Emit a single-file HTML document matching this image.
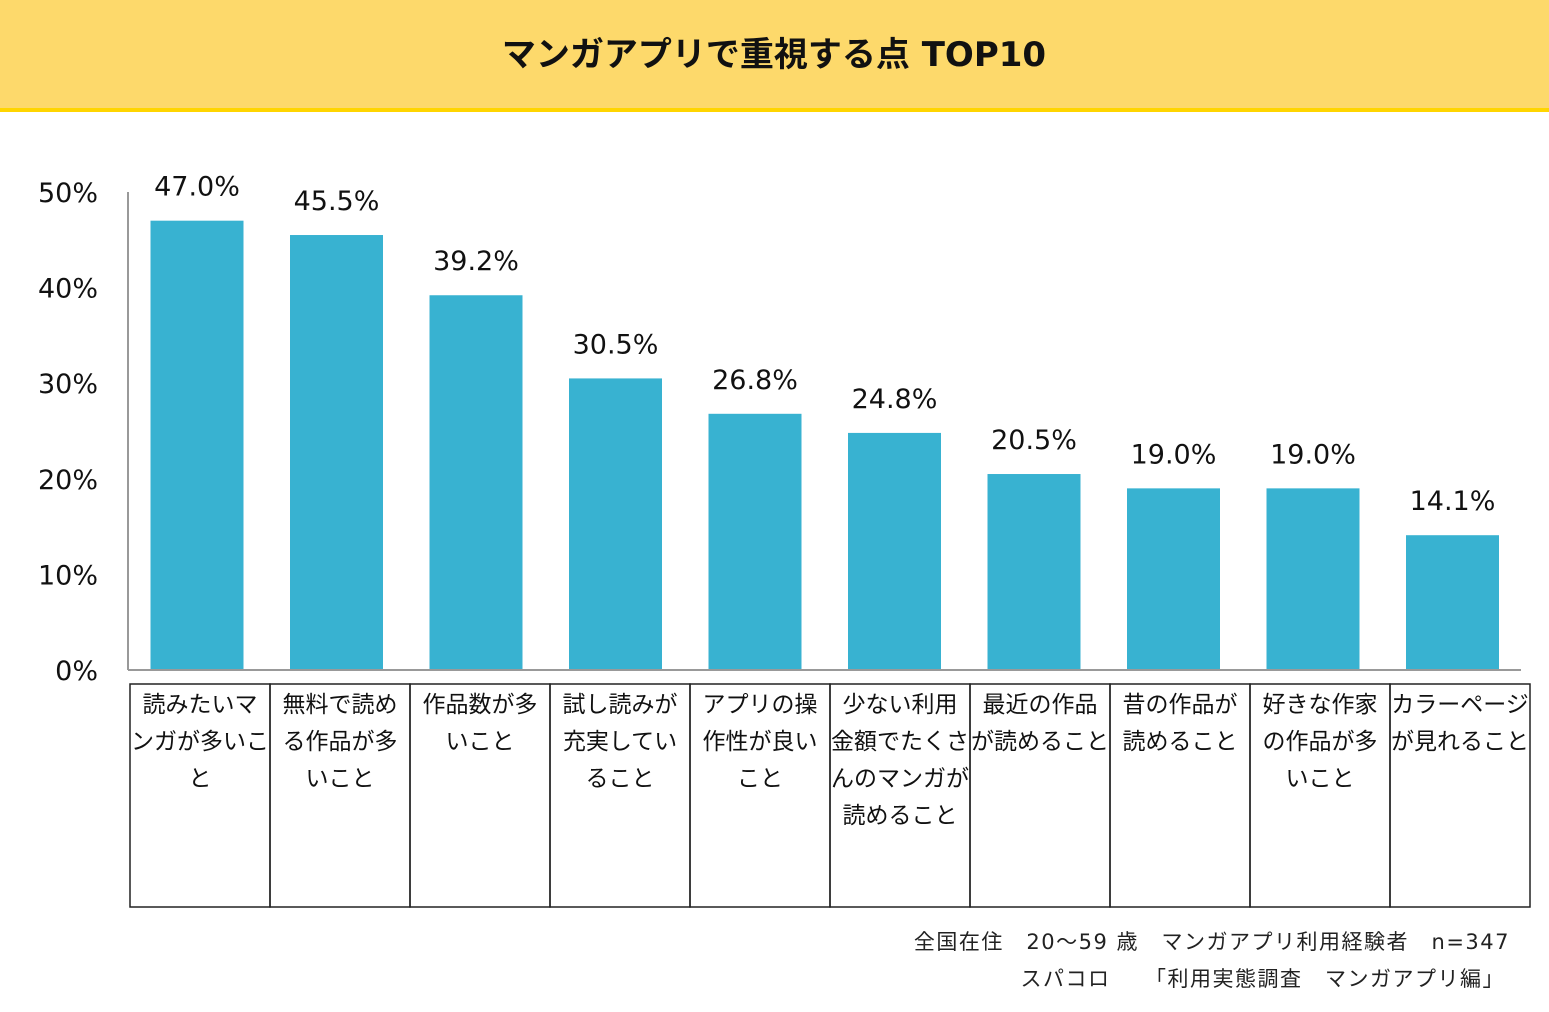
<!DOCTYPE html>
<html><head><meta charset="utf-8"><style>
body{margin:0;width:1549px;height:1008px;background:#fff;overflow:hidden;font-family:"DejaVu Sans","Noto Sans CJK JP",sans-serif}
</style></head><body>
<svg width="1549" height="1008" xmlns="http://www.w3.org/2000/svg" font-family="DejaVu Sans, Noto Sans CJK JP, sans-serif">
<rect x="0" y="0" width="1549" height="109" fill="#FDD96B"/>
<rect x="0" y="108" width="1549" height="4" fill="#FFD500"/>
<text x="774" y="66" text-anchor="middle" font-size="34" font-weight="bold" fill="#111">マンガアプリで重視する点 TOP10</text>
<g id="yticks"></g>
<line x1="128" y1="192" x2="128" y2="670" stroke="#999" stroke-width="2"/>
<g id="bars"></g>
<line x1="128" y1="670" x2="1521" y2="670" stroke="#999" stroke-width="2"/>
<g id="table"></g>
<text x="1510" y="949" text-anchor="end" font-size="21" letter-spacing="1.5" fill="#222" xml:space="preserve">全国在住　20～59 歳　マンガアプリ利用経験者　n=347</text>
<text x="1505" y="986" text-anchor="end" font-size="21" letter-spacing="1.5" fill="#222" xml:space="preserve">スパコロ　　「利用実態調査　マンガアプリ編」</text>
</svg>
<script>
const categories=[["読みたいマ","ンガが多いこ","と"],["無料で読め","る作品が多","いこと"],["作品数が多","いこと"],["試し読みが","充実してい","ること"],["アプリの操","作性が良い","こと"],["少ない利用","金額でたくさ","んのマンガが","読めること"],["最近の作品","が読めること"],["昔の作品が","読めること"],["好きな作家","の作品が多","いこと"],["カラーページ","が見れること"]];
const values=[47.0,45.5,39.2,30.5,26.8,24.8,20.5,19.0,19.0,14.1];
const tickValues=[0,10,20,30,40,50];
const NS="http://www.w3.org/2000/svg";
function y(v){return 670-v*9.56;}
function bx(i){return 197+i*139.5;}
function mk(t,a,p){const e=document.createElementNS(NS,t);for(const k in a)e.setAttribute(k,a[k]);p.appendChild(e);return e;}
const yt=document.getElementById('yticks');
tickValues.forEach(v=>{const t=mk('text',{x:98,y:y(v)+10,'text-anchor':'end','font-size':27,fill:'#111'},yt);t.textContent=v+'%';

});
const bg=document.getElementById('bars');
values.forEach((v,i)=>{const r=mk('rect',{x:bx(i)-46.5,y:y(v),width:93,height:670-y(v),fill:'#38B2D1'},bg);


const t=mk('text',{x:bx(i),y:y(v)-25,'text-anchor':'middle','font-size':27,fill:'#111'},bg);t.textContent=v.toFixed(1)+'%';

});
const tb=document.getElementById('table');
categories.forEach((lines,i)=>{const x0=130+i*140;
const c=mk('rect',{x:x0,y:684,width:140,height:223,fill:'none',stroke:'#222','stroke-width':1.5},tb);


lines.forEach((l,j)=>{const t=mk('text',{x:x0+70,y:712+j*37,'text-anchor':'middle','font-size':23,fill:'#111'},tb);t.textContent=l;

});});
</script>
</body></html>
